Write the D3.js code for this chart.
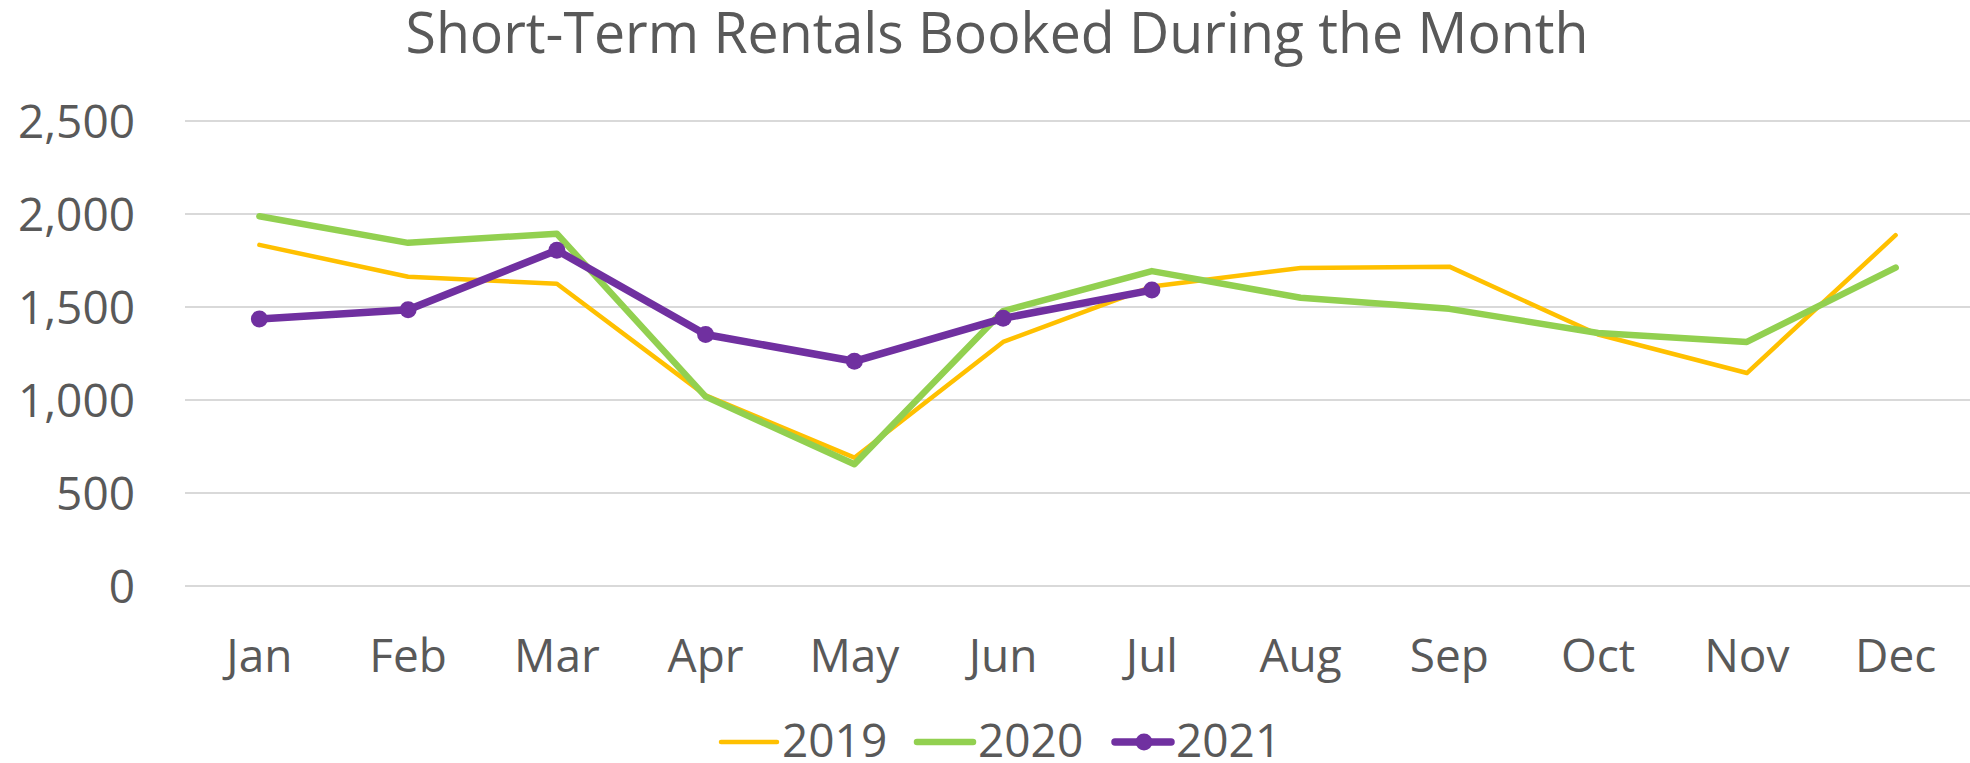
<!DOCTYPE html>
<html>
<head>
<meta charset="utf-8">
<script src="https://cdn.jsdelivr.net/npm/d3@7"></script>
<style>
  html, body { margin: 0; padding: 0; background: #fff; }
  svg { display: block; }
  text { font-family: "Open Sans", sans-serif; fill: #595959; }
</style>
</head>
<body>
<svg id="chart" width="1970" height="763"></svg>
<script>
const title = "Short-Term Rentals Booked During the Month";
const months = ["Jan","Feb","Mar","Apr","May","Jun","Jul","Aug","Sep","Oct","Nov","Dec"];
const yTicks = [0, 500, 1000, 1500, 2000, 2500];
const seriesNames = ["2019", "2020", "2021"];
const values2019 = [1834, 1663, 1625, 1025, 690, 1312, 1610, 1710, 1717, 1352, 1145, 1886];
const values2020 = [1988, 1845, 1894, 1018, 655, 1478, 1693, 1550, 1490, 1360, 1312, 1712];
const values2021 = [1436, 1485, 1805, 1352, 1208, 1439, 1591];

(function () {
const series = [
  { name: seriesNames[0], values: values2019, color: "#FFC000", width: 4.5, markers: false },
  { name: seriesNames[1], values: values2020, color: "#92D050", width: 6.5, markers: false },
  { name: seriesNames[2], values: values2021, color: "#7030A0", width: 7.5, markers: true }
];

const svg = d3.select("#chart");
const plotLeft = 185, plotRight = 1970, plotTop = 121, plotBottom = 586;

const x = d3.scaleBand().domain(months).range([plotLeft, plotRight]);
const y = d3.scaleLinear().domain([0, 2500]).range([plotBottom, plotTop]);
const cx = m => x(m) + x.bandwidth() / 2;

// Title
svg.append("text")
  .attr("x", 997).attr("y", 53)
  .attr("text-anchor", "middle")
  .attr("font-size", 57)
  .attr("textLength", 1183)
  .attr("lengthAdjust", "spacingAndGlyphs")
  .text(title);

// Gridlines
svg.append("g").selectAll("line").data(yTicks).join("line")
  .attr("x1", plotLeft).attr("x2", plotRight)
  .attr("y1", d => y(d)).attr("y2", d => y(d))
  .attr("stroke", "#d9d9d9").attr("stroke-width", 2);

// Y axis labels
const yAxis = d3.axisLeft(y).tickValues(yTicks).tickFormat(d3.format(",")).tickSize(0).tickPadding(0);
const gy = svg.append("g").attr("transform", "translate(135,0)").call(yAxis);
gy.select(".domain").remove();
gy.selectAll("text").attr("font-size", 46).attr("fill", "#595959")
  .attr("font-family", "Open Sans, sans-serif").attr("dy", "0.36em").attr("x", 0);

// X axis labels
const xAxis = d3.axisBottom(x).tickSize(0).tickPadding(0);
const gx = svg.append("g").attr("transform", "translate(0,672)").call(xAxis);
gx.select(".domain").remove();
gx.selectAll("text").attr("font-size", 46).attr("fill", "#595959")
  .attr("font-family", "Open Sans, sans-serif").attr("dy", 0).attr("y", 0);

// Lines
const line = d3.line().x((d, i) => cx(months[i])).y(d => y(d));
series.forEach(s => {
  svg.append("path")
    .datum(s.values)
    .attr("d", line)
    .attr("fill", "none")
    .attr("stroke", s.color)
    .attr("stroke-width", s.width)
    .attr("stroke-linejoin", "round")
    .attr("stroke-linecap", "round");
  if (s.markers) {
    svg.append("g").selectAll("circle").data(s.values).join("circle")
      .attr("cx", (d, i) => cx(months[i]))
      .attr("cy", d => y(d))
      .attr("r", 8.5)
      .attr("fill", s.color);
  }
});

// Legend
const legendX = [721, 917, 1115];
const legend = svg.append("g");
series.forEach((s, i) => {
  const lx = legendX[i], ly = 742;
  legend.append("line")
    .attr("x1", lx).attr("x2", lx + 56)
    .attr("y1", ly).attr("y2", ly)
    .attr("stroke", s.color).attr("stroke-width", s.width)
    .attr("stroke-linecap", "round");
  if (s.markers) {
    legend.append("circle").attr("cx", lx + 29).attr("cy", ly).attr("r", 8.5).attr("fill", s.color);
  }
  legend.append("text")
    .attr("x", lx + 61).attr("y", 757)
    .attr("font-size", 46)
    .text(s.name);
});
})();
</script>
</body>
</html>
